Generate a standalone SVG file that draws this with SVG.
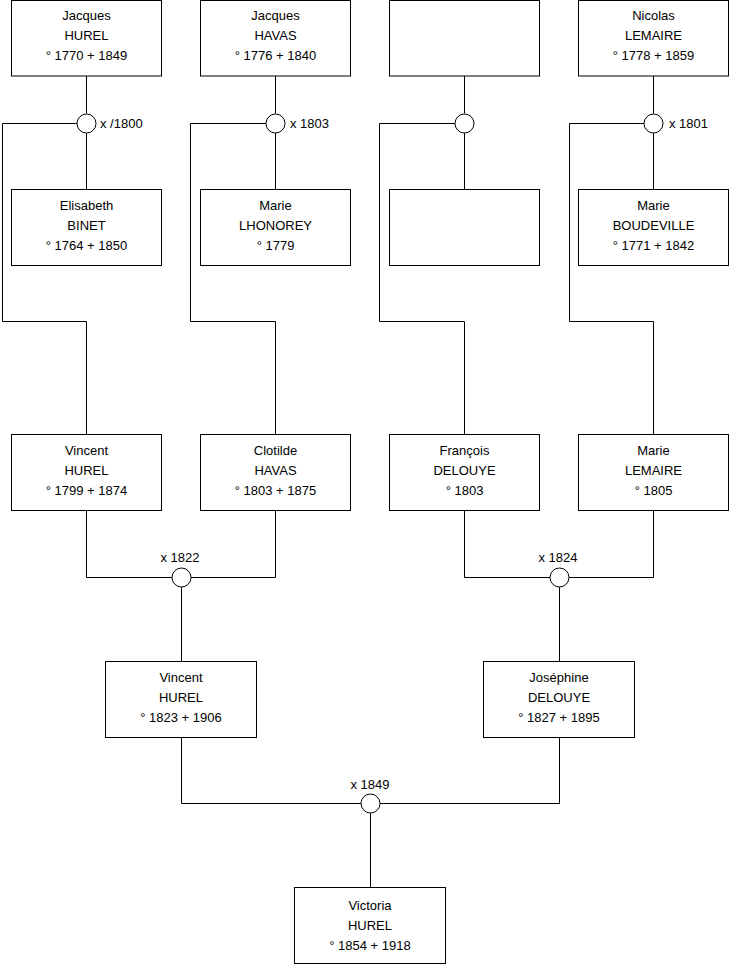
<svg xmlns="http://www.w3.org/2000/svg" width="740" height="975" viewBox="0 0 740 975">
<style>
  .box rect { fill: #fff; stroke: #000; stroke-width: 1; }
  .box text, .lbl { font-family: "Liberation Sans", Arial, sans-serif; font-size: 13px; fill: #000; }
  .box text { text-anchor: middle; }
  .conn path { fill: none; stroke: #000; stroke-width: 1; }
  .conn circle { fill: #fff; stroke: #000; stroke-width: 1; }
</style>
<rect x="0" y="0" width="740" height="975" fill="#fff"/>
<g class="conn">
  <path d="M86.5 76 V113.5 M86.5 132.5 V189.5 M77 123.5 H2.5 V321.5 H86.5 V434.5"/>
  <path d="M275.5 76 V113.5 M275.5 132.5 V189.5 M266 123.5 H190.5 V321.5 H275.5 V434.5"/>
  <path d="M464.5 76 V113.5 M464.5 132.5 V189.5 M455 123.5 H379.5 V321.5 H464.5 V434.5"/>
  <path d="M653.5 76 V113.5 M653.5 132.5 V189.5 M644 123.5 H569.5 V321.5 H653.5 V434.5"/>
  <circle cx="86.5" cy="123.5" r="9.5"/>
  <circle cx="275.5" cy="123.5" r="9.5"/>
  <circle cx="464.5" cy="123.5" r="9.5"/>
  <circle cx="653.5" cy="123.5" r="9.5"/>
  <path d="M86.5 510.5 V577.5 H172 M191 577.5 H275.5 V510.5 M181.5 587 V661.5"/>
  <path d="M464.5 510.5 V577.5 H550 M569 577.5 H653.5 V510.5 M559.5 587 V661.5"/>
  <circle cx="181.5" cy="577.5" r="9.5"/>
  <circle cx="559.5" cy="577.5" r="9.5"/>
  <path d="M181.5 737.5 V803.5 H361 M380 803.5 H559.5 V737.5 M370.5 813 V887.5"/>
  <circle cx="370.5" cy="803.5" r="9.5"/>
  <text class="lbl" x="100" y="128">x /1800</text>
  <text class="lbl" x="290" y="128">x 1803</text>
  <text class="lbl" x="669" y="128">x 1801</text>
  <text class="lbl" x="180" y="562" text-anchor="middle">x 1822</text>
  <text class="lbl" x="558" y="562" text-anchor="middle">x 1824</text>
  <text class="lbl" x="370" y="789" text-anchor="middle">x 1849</text>
</g>
<g id="jacques-hurel" class="box"><rect x="11.5" y="0.5" width="150" height="75.5"/>
  <text x="86.5" y="20">Jacques</text><text x="86.5" y="40">HUREL</text><text x="86.5" y="60">° 1770 + 1849</text></g>
<g id="jacques-havas" class="box"><rect x="200.5" y="0.5" width="150" height="75.5"/>
  <text x="275.5" y="20">Jacques</text><text x="275.5" y="40">HAVAS</text><text x="275.5" y="60">° 1776 + 1840</text></g>
<g id="unknown-father" class="box"><rect x="389.5" y="0.5" width="150" height="75.5"/></g>
<g id="nicolas-lemaire" class="box"><rect x="578.5" y="0.5" width="150" height="75.5"/>
  <text x="653.5" y="20">Nicolas</text><text x="653.5" y="40">LEMAIRE</text><text x="653.5" y="60">° 1778 + 1859</text></g>
<g id="elisabeth-binet" class="box"><rect x="11.5" y="189.5" width="150" height="76"/>
  <text x="86.5" y="210">Elisabeth</text><text x="86.5" y="230">BINET</text><text x="86.5" y="250">° 1764 + 1850</text></g>
<g id="marie-lhonorey" class="box"><rect x="200.5" y="189.5" width="150" height="76"/>
  <text x="275.5" y="210">Marie</text><text x="275.5" y="230">LHONOREY</text><text x="275.5" y="250">° 1779</text></g>
<g id="unknown-mother" class="box"><rect x="389.5" y="189.5" width="150" height="76"/></g>
<g id="marie-boudeville" class="box"><rect x="578.5" y="189.5" width="150" height="76"/>
  <text x="653.5" y="210">Marie</text><text x="653.5" y="230">BOUDEVILLE</text><text x="653.5" y="250">° 1771 + 1842</text></g>
<g id="vincent-hurel-1799" class="box"><rect x="11.5" y="434.5" width="150" height="76"/>
  <text x="86.5" y="455">Vincent</text><text x="86.5" y="475">HUREL</text><text x="86.5" y="495">° 1799 + 1874</text></g>
<g id="clotilde-havas" class="box"><rect x="200.5" y="434.5" width="150" height="76"/>
  <text x="275.5" y="455">Clotilde</text><text x="275.5" y="475">HAVAS</text><text x="275.5" y="495">° 1803 + 1875</text></g>
<g id="francois-delouye" class="box"><rect x="389.5" y="434.5" width="150" height="76"/>
  <text x="464.5" y="455">François</text><text x="464.5" y="475">DELOUYE</text><text x="464.5" y="495">° 1803</text></g>
<g id="marie-lemaire" class="box"><rect x="578.5" y="434.5" width="150" height="76"/>
  <text x="653.5" y="455">Marie</text><text x="653.5" y="475">LEMAIRE</text><text x="653.5" y="495">° 1805</text></g>
<g id="vincent-hurel-1823" class="box"><rect x="105.5" y="661.5" width="151" height="76"/>
  <text x="181" y="682">Vincent</text><text x="181" y="702">HUREL</text><text x="181" y="722">° 1823 + 1906</text></g>
<g id="josephine-delouye" class="box"><rect x="483.5" y="661.5" width="151" height="76"/>
  <text x="559" y="682">Joséphine</text><text x="559" y="702">DELOUYE</text><text x="559" y="722">° 1827 + 1895</text></g>
<g id="victoria-hurel" class="box"><rect x="294.5" y="887.5" width="151" height="76"/>
  <text x="370" y="910">Victoria</text><text x="370" y="930">HUREL</text><text x="370" y="950">° 1854 + 1918</text></g>
</svg>
